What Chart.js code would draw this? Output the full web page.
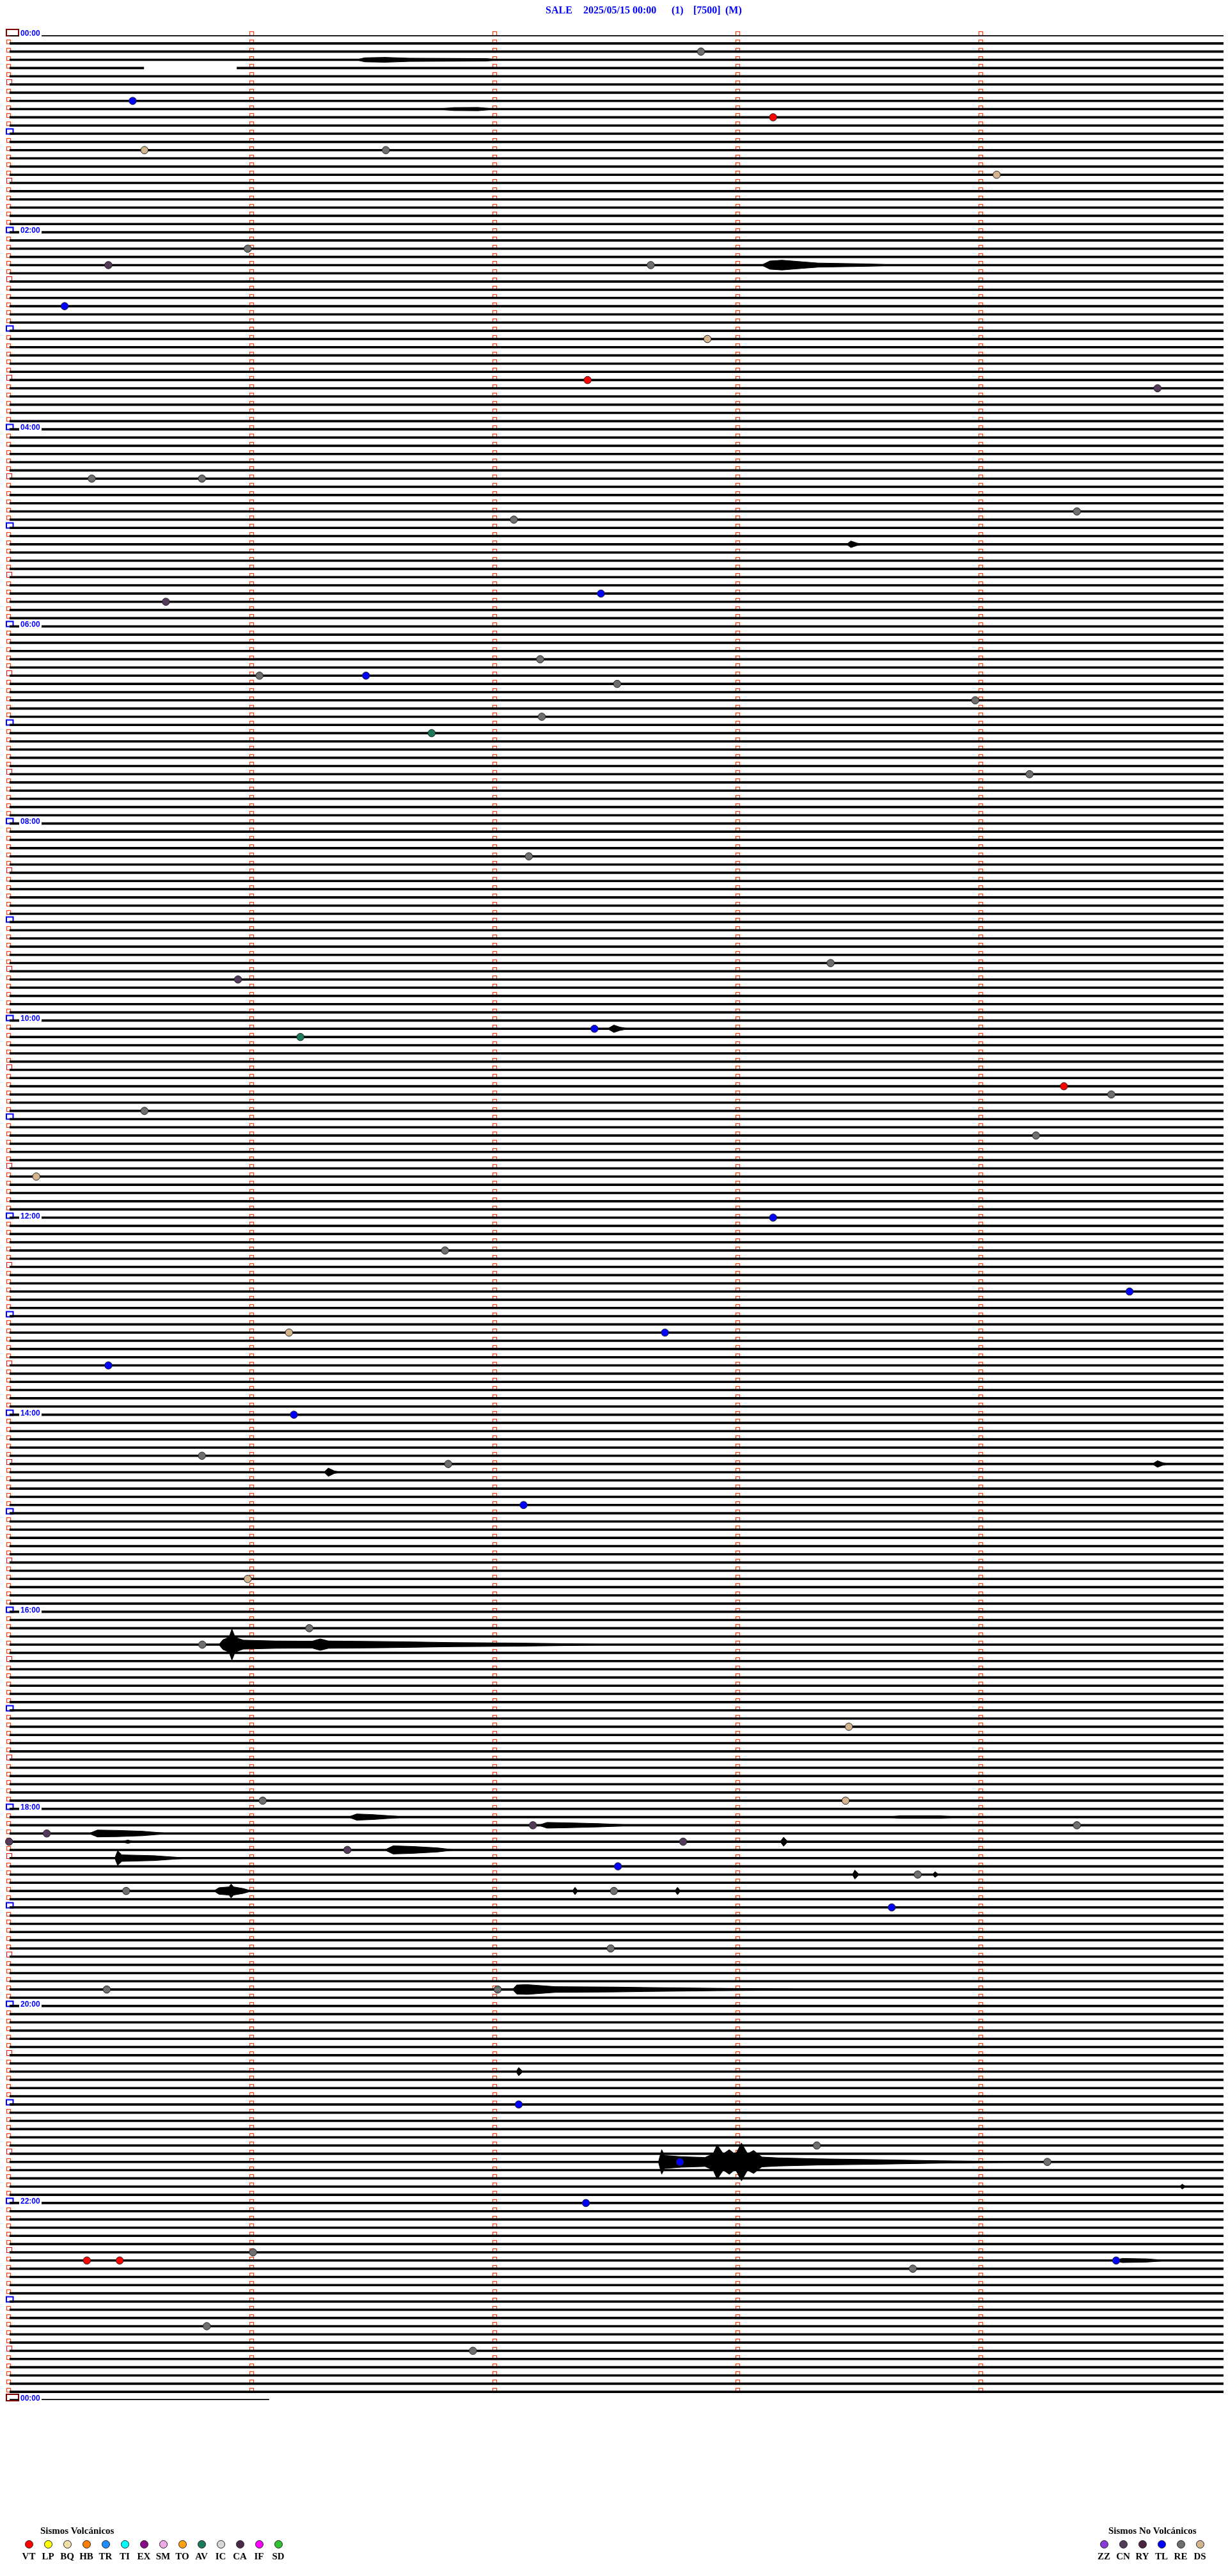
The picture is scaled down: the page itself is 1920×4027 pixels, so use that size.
<!DOCTYPE html>
<html>
<head>
<meta charset="utf-8">
<title>SALE 2025/05/15</title>
<script src="https://cdn.jsdelivr.net/npm/chart.js@4.4.0/dist/chart.umd.min.js"></script>
<style>
  body { margin: 0; background: #fff; }
  #page { position: relative; width: 1920px; height: 4027px; overflow: hidden; background: #fff; }
  #heli { position: absolute; left: 0; top: 0; }
  .ttl { position: absolute; top: 8px; font: bold 16px "Liberation Serif", serif; line-height: 16px; color: #0000ff; white-space: pre; }
  .hr { position: absolute; font: bold 12px "Liberation Sans", Arial, sans-serif; line-height: 12px; color: #0000ff; background: #fff; padding-left: 2px; width: 33px; }
  .lgt { position: absolute; font: bold 15px "Liberation Serif", serif; line-height: 15px; color: #000; white-space: pre; }
  .dot { position: absolute; width: 11px; height: 11px; border-radius: 50%; border: 1px solid #222; }
  .lbl { position: absolute; width: 30px; text-align: center; font: bold 15px "Liberation Serif", serif; line-height: 15px; color: #000; }
</style>
</head>
<body>
<div id="page">
  <canvas id="heli" width="1920" height="4027"></canvas>
  <div class="ttl" style="left:853px">SALE</div>
  <div class="ttl" style="left:912px">2025/05/15 00:00</div>
  <div class="ttl" style="left:1050px">(1)</div>
  <div class="ttl" style="left:1084px">[7500]</div>
  <div class="ttl" style="left:1134px">(M)</div>
  <div class="lgt" style="left:63px;top:3949px">Sismos Volcánicos</div>
  <div class="lgt" style="left:1733px;top:3949px">Sismos No Volcánicos</div>
</div>
<script>
// helicorder: 288 rows of 5 minutes (00:00 -> 24:00), x = seconds inside the row
const LINES = 288;
const SEC_MAX = 300;

const hourLabels = ['00:00','02:00','04:00','06:00','08:00','10:00','12:00',
  '14:00','16:00','18:00','20:00','22:00','00:00'];
const hourLines = [0, 24, 48, 72, 96, 120, 144, 168, 192, 216, 240, 264, 288];

// pieces with no record: row, from s, to s
const gapLine = [4, 288];
const gapFrom = [33.5, 64.4];
const gapTo = [56.4, 300];

// events (row, second, type)
const evLine = [2, 8, 10, 14, 14, 17, 26, 28, 28, 33, 37, 42, 43, 54, 54, 58, 59, 68, 69, 76,
  78, 78, 79, 81, 83, 85, 90, 100, 113, 115, 121, 122, 128, 129, 131, 134, 139, 144, 148, 153,
  158, 158, 162, 168, 173, 174, 179, 188, 194, 196, 206, 215, 215, 218, 218, 219, 220, 220, 221, 223,
  224, 226, 226, 228, 233, 238, 238, 252, 257, 259, 259, 264, 270, 271, 271, 271, 272, 279, 282];
const evSec = [171.0, 30.7, 188.8, 33.6, 93.2, 244.0, 59.1, 24.7, 158.6, 13.9, 172.6, 143.0, 283.7, 20.6, 47.8, 263.8, 124.8, 146.3, 38.9, 131.3,
  62.0, 88.3, 150.3, 238.7, 131.7, 104.5, 252.1, 128.5, 203.0, 56.7, 144.7, 72.1, 260.6, 272.3, 33.6, 253.7, 6.9, 188.8, 107.8, 276.8,
  69.3, 162.1, 24.7, 70.5, 47.8, 108.6, 127.2, 59.1, 74.3, 47.9, 207.5, 206.7, 62.8, 263.8, 129.5, 9.5, 166.6, 0.2, 83.7, 150.5,
  224.5, 29.1, 149.5, 218.1, 148.7, 24.3, 120.8, 126.0, 199.6, 165.8, 256.5, 142.6, 60.4, 19.4, 27.5, 273.5, 223.3, 49.0, 114.7];
const evType = ['RE','TL','VT','DS','RE','DS','RE','CN','RE','TL','DS','VT','CN','RE','RE','RE','RE','TL','CN','RE',
  'RE','TL','RE','RE','RE','AV','RE','RE','RE','CN','TL','AV','VT','RE','RE','RE','DS','TL','RE','TL',
  'DS','TL','TL','TL','RE','RE','TL','DS','RE','RE','DS','DS','RE','RE','CN','CN','CN','CN','CN','TL',
  'RE','RE','RE','TL','RE','RE','RE','TL','RE','TL','RE','TL','RE','VT','VT','TL','RE','RE','RE'];

// signal bursts: row and envelope knots [second, half amplitude in rows]
const burstLine = [3, 9, 28, 62, 121, 174, 175, 196, 217, 217, 218, 219, 220, 220, 221, 222,
  224, 224, 226, 226, 226, 238, 248, 259, 262, 271];
const burstKnots = [
  [[86,0.02],[88,0.25],[93,0.3],[99,0.2],[118,0.15],[121,0.02]],
  [[106,0.02],[110,0.18],[116,0.2],[120,0.02]],
  [[186,0.02],[188,0.5],[191,0.6],[196,0.4],[200,0.25],[212,0.15],[220,0.02]],
  [[207,0.02],[208,0.4],[209.5,0.15],[211,0.02]],
  [[148,0.02],[149.5,0.45],[151,0.2],[153,0.02]],
  [[282.5,0.02],[283.7,0.4],[285,0.15],[286.5,0.02]],
  [[78,0.02],[79,0.5],[80.5,0.15],[82,0.02]],
  [[52,0.02],[53,0.6],[54.5,0.9],[55.2,1.9],[56,0.9],[58,0.55],[66,0.45],[75,0.42],[77,0.7],[79,0.45],[93,0.38],[100,0.33],[110,0.25],[125,0.2],[140,0.1],[148,0.02]],
  [[84,0.02],[86,0.38],[90,0.3],[96,0.1],[98,0.02]],
  [[217,0.02],[220,0.15],[230,0.15],[235,0.02]],
  [[131,0.02],[133,0.35],[138,0.3],[146,0.2],[152,0.08],[154,0.02]],
  [[20,0.02],[22,0.42],[27,0.38],[33,0.28],[38,0.08],[40,0.02]],
  [[28,0.02],[29.5,0.2],[31,0.02]],
  [[190.6,0.02],[191.4,0.55],[192.4,0.02]],
  [[93,0.02],[95,0.5],[100,0.42],[106,0.25],[110,0.02]],
  [[26.3,0.02],[27,0.9],[28,0.4],[36,0.3],[44,0.02]],
  [[208.4,0.02],[209,0.55],[210,0.02]],
  [[228.2,0.02],[228.8,0.35],[229.6,0.02]],
  [[50.8,0.02],[52,0.4],[54.5,0.5],[55,0.85],[55.6,0.5],[58,0.3],[60,0.02]],
  [[139.3,0.02],[139.9,0.45],[140.6,0.02]],
  [[164.6,0.02],[165.2,0.45],[165.9,0.02]],
  [[124.5,0.02],[125.5,0.55],[128,0.6],[135,0.35],[150,0.3],[157,0.25],[175,0.15],[193,0.08],[195,0.02]],
  [[125.4,0.02],[126,0.5],[127,0.02]],
  [[160.5,0.02],[161.3,1.5],[162,0.8],[166,0.65],[172,0.55],[174,1.0],[175,2.1],[176.5,1.0],[178,1.5],[179.5,0.9],[181,2.3],[182.5,1.0],[184,1.4],[186,0.6],[190,0.5],[200,0.38],[215,0.28],[230,0.15],[245,0.07],[250,0.02]],
  [[289.2,0.02],[289.8,0.3],[290.6,0.02]],
  [[273,0.02],[275,0.25],[281,0.2],[286,0.02]]
];

// colour codes for the legend and the events
const volcCodes = ['VT','LP','BQ','HB','TR','TI','EX','SM','TO','AV','IC','CA','IF','SD'];
const volcColors = ['#ff0000','#ffff00','#f0e0a8','#ff8000','#1e8cff','#00ffff','#8a0a8a','#f0a8e8','#ffa010','#1a7a5a','#d8d8d8','#4a2a4a','#ff00ff','#30c030'];
const nonCodes = ['ZZ','CN','RY','TL','RE','DS'];
const nonColors = ['#8a3ad8','#533a5a','#4a2440','#0000ff','#6e6e6e','#d4b48c'];

const typeColor = {};
volcCodes.forEach((c, k) => typeColor[c] = volcColors[k]);
nonCodes.forEach((c, k) => typeColor[c] = nonColors[k]);

// --- trace rows ---
const tracePts = [];
for (let i = 0; i <= LINES; i++) {
  let segs = [[0.3, SEC_MAX]];
  gapLine.forEach((gl, k) => {
    if (gl !== i) return;
    const out = [];
    segs.forEach(s => {
      if (gapTo[k] <= s[0] || gapFrom[k] >= s[1]) { out.push(s); return; }
      if (gapFrom[k] > s[0]) out.push([s[0], gapFrom[k]]);
      if (gapTo[k] < s[1]) out.push([gapTo[k], s[1]]);
    });
    segs = out;
  });
  segs.forEach(s => {
    tracePts.push({x: s[0], y: i}, {x: s[1], y: i}, {x: s[1], y: null});
  });
}

const datasets = [{
  type: 'line',
  data: tracePts,
  borderColor: '#000',
  borderWidth: 3.6,
  pointRadius: 0,
  spanGaps: false,
  fill: false,
  order: 3
}];

burstLine.forEach((l, k) => {
  const kn = burstKnots[k];
  datasets.push({
    type: 'line',
    data: kn.map(p => ({x: p[0], y: l - p[1]})),
    borderColor: '#000', borderWidth: 1, pointRadius: 0, fill: false, order: 2, clip: false
  });
  datasets.push({
    type: 'line',
    data: kn.map(p => ({x: p[0], y: l + p[1]})),
    borderColor: '#000', borderWidth: 1, pointRadius: 0, backgroundColor: '#000', fill: '-1', order: 2, clip: false
  });
});

datasets.push({
  type: 'scatter',
  data: evLine.map((l, k) => ({x: evSec[k], y: l})),
  pointRadius: 5.8,
  pointBackgroundColor: evType.map(t => typeColor[t]),
  pointBorderColor: '#222',
  pointBorderWidth: 1,
  clip: false,
  order: 0
});

// minute ticks and the hour / half-hour boxes at the start of each row
const markerPlugin = {
  id: 'markers',
  beforeDatasetsDraw(chart) {
    const ctx = chart.ctx, xs = chart.scales.x, ys = chart.scales.y;
    ctx.save();
    for (let i = 0; i <= LINES; i++) {
      const y = Math.round(ys.getPixelForValue(i));
      for (let m = 0; m < 5; m++) {
        if (i === LINES && m > 0) break;
        const x = Math.round(xs.getPixelForValue(m * 60));
        if (m === 0 && (i === 0 || i === LINES)) {
          ctx.strokeStyle = '#800000'; ctx.lineWidth = 2;
          ctx.strokeRect(10, y - 9, 19, 10);
        } else if (m === 0 && i % 12 === 0) {
          ctx.strokeStyle = '#0000ff'; ctx.lineWidth = 2;
          ctx.strokeRect(10, y - 7.5, 10.5, 8);
        } else if (m === 0 && i % 12 === 6) {
          ctx.strokeStyle = '#ff0000'; ctx.lineWidth = 1;
          ctx.strokeRect(10.5, y - 7.5, 8, 8);
        } else {
          ctx.strokeStyle = '#ff3c0a'; ctx.lineWidth = 1.2;
          ctx.strokeRect(x - 2.5, y - 5.5, 6, 6);
        }
      }
    }
    ctx.restore();
  }
};

const chart = new Chart(document.getElementById('heli'), {
  data: { datasets: datasets },
  options: {
    responsive: false,
    animation: false,
    devicePixelRatio: 1,
    layout: { padding: { left: 13, right: 7, top: 55, bottom: 275 } },
    plugins: { legend: { display: false }, tooltip: { enabled: false } },
    scales: {
      x: { type: 'linear', min: 0, max: SEC_MAX, display: false },
      y: { type: 'linear', min: 0, max: LINES, reverse: true, display: false }
    }
  },
  plugins: [markerPlugin]
});

// hour labels every two hours
const page = document.getElementById('page');
hourLines.forEach((l, k) => {
  const d = document.createElement('div');
  d.className = 'hr';
  d.textContent = hourLabels[k];
  d.style.left = '30px';
  d.style.top = (chart.scales.y.getPixelForValue(l) - 9) + 'px';
  page.appendChild(d);
});

// legends
function addLegend(codes, colors, x0) {
  codes.forEach((c, k) => {
    const cx = x0 + k * 30;
    const dot = document.createElement('div');
    dot.className = 'dot';
    dot.style.left = (cx - 6) + 'px';
    dot.style.top = '3971px';
    dot.style.background = colors[k];
    page.appendChild(dot);
    const t = document.createElement('div');
    t.className = 'lbl';
    t.textContent = c;
    t.style.left = (cx - 15) + 'px';
    t.style.top = '3989px';
    page.appendChild(t);
  });
}
addLegend(volcCodes, volcColors, 45);
addLegend(nonCodes, nonColors, 1726);
</script>
</body>
</html>
